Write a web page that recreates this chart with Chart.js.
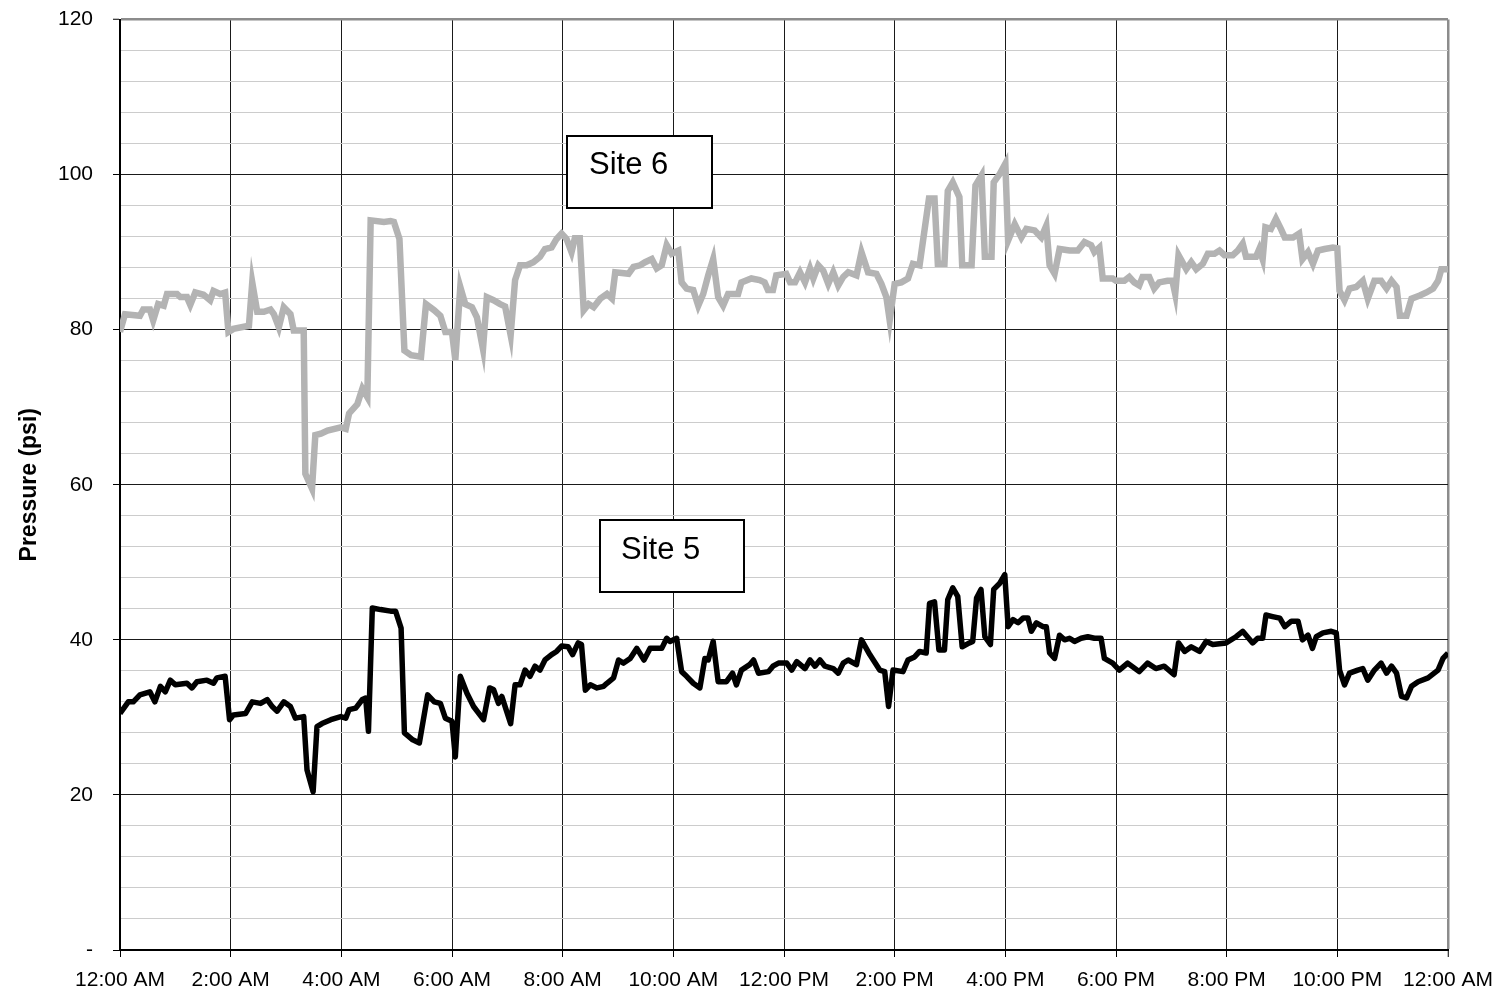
<!DOCTYPE html>
<html>
<head>
<meta charset="utf-8">
<script src="https://cdn.jsdelivr.net/npm/chart.js@4.4.1/dist/chart.umd.min.js"></script>
<style>
  html, body { margin: 0; padding: 0; background: #ffffff; }
  #wrap { position: relative; width: 1503px; height: 995px; }
  canvas { display: block; }
</style>
</head>
<body>
<div id="wrap"><canvas id="c" width="1503" height="995"></canvas></div>
<script>
// ---- Data (hours after midnight, pressure in psi) ----
const timeLabels = ["12:00 AM","2:00 AM","4:00 AM","6:00 AM","8:00 AM","10:00 AM","12:00 PM","2:00 PM","4:00 PM","6:00 PM","8:00 PM","10:00 PM","12:00 AM"];

const site6Hours = [0.00,0.09,0.36,0.42,0.54,0.60,0.69,0.79,0.85,1.03,1.09,1.21,1.27,1.36,1.51,1.63,1.69,1.81,1.90,1.96,2.05,2.33,2.39,2.48,2.60,2.72,2.78,2.87,2.96,3.08,3.14,3.32,3.35,3.47,3.53,3.63,3.75,3.99,4.08,4.14,4.29,4.38,4.47,4.53,4.77,4.89,4.95,5.05,5.14,5.26,5.44,5.53,5.68,5.79,5.88,6.00,6.06,6.15,6.24,6.36,6.45,6.56,6.63,6.75,6.87,6.96,7.06,7.14,7.23,7.35,7.47,7.59,7.68,7.80,7.89,7.98,8.07,8.16,8.22,8.31,8.38,8.47,8.56,8.68,8.80,8.89,8.95,9.07,9.19,9.28,9.40,9.49,9.61,9.70,9.79,9.88,9.97,10.09,10.15,10.24,10.36,10.45,10.54,10.63,10.72,10.81,10.90,10.99,11.17,11.23,11.41,11.56,11.65,11.71,11.80,11.86,12.04,12.11,12.20,12.29,12.38,12.47,12.53,12.62,12.71,12.80,12.89,12.98,13.07,13.16,13.31,13.40,13.52,13.67,13.76,13.85,13.91,14.00,14.12,14.24,14.33,14.45,14.62,14.72,14.78,14.90,14.96,15.05,15.17,15.22,15.39,15.46,15.57,15.63,15.75,15.79,15.90,16.00,16.05,16.17,16.29,16.38,16.53,16.65,16.74,16.80,16.89,16.98,17.16,17.31,17.43,17.55,17.61,17.70,17.76,17.94,18.00,18.15,18.24,18.33,18.42,18.48,18.60,18.69,18.78,18.93,19.02,19.07,19.13,19.27,19.36,19.45,19.57,19.66,19.78,19.87,19.96,20.11,20.20,20.29,20.35,20.53,20.59,20.65,20.70,20.80,20.89,20.98,21.05,21.20,21.31,21.37,21.47,21.56,21.65,21.77,21.92,22.00,22.04,22.13,22.22,22.34,22.46,22.55,22.67,22.79,22.89,22.98,23.07,23.13,23.25,23.34,23.49,23.61,23.73,23.82,23.88,24.00];
const site6Psi = [79.7,82.0,81.8,82.6,82.6,81.2,83.3,83.1,84.6,84.6,84.2,84.2,83.2,84.8,84.5,83.8,85.0,84.6,84.8,79.7,80.1,80.5,86.1,82.3,82.3,82.6,82.0,80.3,82.9,82.0,79.9,79.9,61.4,59.5,66.4,66.6,67.0,67.4,67.2,69.2,70.4,72.4,71.3,94.1,93.9,94.0,93.9,91.7,77.3,76.7,76.5,83.3,82.5,81.8,79.7,79.7,76.1,85.5,83.3,82.9,81.6,77.5,84.2,83.8,83.3,83.0,79.3,86.4,88.3,88.3,88.7,89.4,90.4,90.6,91.7,92.4,91.7,90.0,91.8,91.8,82.5,83.3,82.9,84.0,84.6,84.0,87.4,87.3,87.2,88.1,88.3,88.7,89.1,87.9,88.3,90.9,89.8,90.2,86.1,85.3,85.1,83.1,84.6,87.0,89.1,84.2,83.1,84.6,84.6,86.1,86.6,86.4,86.1,85.1,85.1,87.0,87.2,86.1,86.1,87.4,86.1,87.9,86.6,88.3,87.6,85.9,87.4,85.7,86.8,87.4,87.0,90.0,87.4,87.2,85.9,84.2,81.2,85.9,86.1,86.6,88.5,88.3,96.9,96.9,88.5,88.5,97.9,99.0,97.1,88.3,88.3,98.6,99.9,89.4,89.4,99.0,100.1,101.4,91.5,93.6,91.9,93.0,92.8,91.9,93.4,88.3,87.2,90.4,90.2,90.2,91.3,90.9,90.0,90.6,86.6,86.6,86.3,86.3,86.8,86.1,85.7,86.8,86.8,85.3,86.1,86.3,86.3,84.6,89.6,87.8,88.7,87.8,88.5,89.8,89.8,90.2,89.6,89.6,90.2,91.1,89.4,89.4,90.4,89.1,93.2,93.0,94.3,93.0,91.9,91.9,92.4,89.1,90.0,88.5,90.2,90.4,90.6,90.5,85.0,83.8,85.3,85.5,86.3,84.0,86.3,86.3,85.3,86.3,85.5,81.8,81.8,84.0,84.4,84.8,85.3,86.3,87.8,87.8];

const site5Hours = [0.00,0.15,0.24,0.36,0.54,0.63,0.73,0.82,0.91,1.00,1.21,1.30,1.39,1.57,1.69,1.75,1.90,1.98,2.05,2.27,2.39,2.54,2.66,2.75,2.84,2.96,3.08,3.17,3.32,3.38,3.49,3.56,3.65,3.81,3.99,4.08,4.14,4.26,4.38,4.44,4.49,4.56,4.71,4.89,4.98,5.08,5.14,5.29,5.41,5.56,5.68,5.79,5.88,6.00,6.06,6.15,6.27,6.39,6.57,6.68,6.75,6.84,6.90,7.06,7.14,7.23,7.32,7.41,7.50,7.59,7.68,7.80,7.89,7.98,8.10,8.18,8.28,8.34,8.41,8.50,8.62,8.74,8.80,8.92,9.01,9.10,9.22,9.34,9.47,9.58,9.79,9.88,9.94,10.06,10.15,10.24,10.36,10.48,10.57,10.63,10.72,10.81,10.96,11.07,11.14,11.23,11.38,11.45,11.54,11.72,11.80,11.90,12.05,12.14,12.23,12.38,12.47,12.56,12.65,12.74,12.89,12.98,13.07,13.16,13.31,13.40,13.55,13.73,13.82,13.89,13.97,14.15,14.24,14.36,14.45,14.57,14.63,14.72,14.80,14.90,14.96,15.05,15.14,15.22,15.35,15.41,15.48,15.56,15.63,15.73,15.79,15.90,15.99,16.05,16.14,16.23,16.32,16.41,16.47,16.56,16.68,16.74,16.80,16.89,16.98,17.07,17.16,17.25,17.37,17.49,17.61,17.73,17.79,17.94,18.06,18.21,18.42,18.57,18.72,18.87,19.05,19.13,19.24,19.36,19.51,19.63,19.75,19.99,20.17,20.29,20.47,20.56,20.65,20.71,20.83,20.96,21.05,21.17,21.29,21.37,21.47,21.55,21.62,21.74,21.89,21.98,22.04,22.13,22.22,22.37,22.46,22.55,22.67,22.79,22.89,22.98,23.07,23.16,23.25,23.34,23.46,23.64,23.82,23.91,24.00];
const site5Psi = [30.5,32.0,32.0,32.9,33.3,32.0,34.0,33.3,34.8,34.2,34.4,33.8,34.6,34.8,34.4,35.1,35.3,29.7,30.3,30.5,32.0,31.8,32.3,31.4,30.8,32.0,31.4,29.9,30.1,23.2,20.4,28.8,29.2,29.7,30.1,29.9,31.0,31.2,32.3,32.5,28.2,44.1,43.9,43.7,43.7,41.5,28.0,27.1,26.7,32.9,32.0,31.8,29.9,29.5,24.9,35.3,33.1,31.4,29.7,33.8,33.6,31.8,32.7,29.2,34.2,34.2,36.1,35.3,36.6,36.1,37.4,38.1,38.5,39.2,39.1,38.1,39.6,39.4,33.5,34.2,33.8,34.0,34.4,35.1,37.4,37.0,37.6,38.9,37.4,38.9,38.9,40.2,39.8,40.2,35.9,35.3,34.4,33.8,37.6,37.4,39.8,34.6,34.6,35.7,34.2,36.1,36.8,37.4,35.7,35.9,36.6,37.0,37.0,36.1,37.2,36.3,37.4,36.6,37.4,36.6,36.3,35.7,37.0,37.4,36.8,40.0,38.1,36.1,35.9,31.4,36.1,35.9,37.4,37.8,38.5,38.3,44.7,44.9,38.7,38.7,45.2,46.7,45.6,39.1,39.6,39.8,45.4,46.5,40.4,39.4,46.5,47.3,48.4,41.7,42.6,42.2,42.8,42.8,41.1,42.2,41.7,41.7,38.3,37.6,40.6,40.0,40.2,39.8,40.2,40.4,40.2,40.2,37.6,37.0,36.1,37.0,35.9,37.0,36.3,36.6,35.5,39.6,38.5,39.1,38.5,39.8,39.4,39.6,40.4,41.1,39.6,40.2,40.2,43.2,43.0,42.8,41.7,42.4,42.4,40.0,40.6,38.9,40.4,40.9,41.1,40.9,36.1,34.2,35.7,36.1,36.3,34.8,36.1,37.0,35.7,36.6,35.7,32.7,32.5,34.0,34.6,35.1,36.1,37.6,38.3];

const seriesNames = ["Site 6", "Site 5"];

// ---- Chart ----
const FONT = 'Arial, "Liberation Sans", sans-serif';

const boxLabels = {
  id: 'boxLabels',
  afterDraw(chart) {
    const ctx = chart.ctx;
    const boxes = [
      { text: seriesNames[0], x: 567, y: 136, w: 145, h: 72, tx: 589, ty: 165 },
      { text: seriesNames[1], x: 600, y: 520, w: 144, h: 72, tx: 621, ty: 550 }
    ];
    ctx.save();
    boxes.forEach(b => {
      ctx.fillStyle = '#ffffff';
      ctx.fillRect(b.x, b.y, b.w, b.h);
      ctx.strokeStyle = '#000000';
      ctx.lineWidth = 2;
      ctx.strokeRect(b.x, b.y, b.w, b.h);
      ctx.fillStyle = '#000000';
      ctx.font = '31px ' + FONT;
      ctx.textAlign = 'left';
      ctx.textBaseline = 'middle';
      ctx.fillText(b.text, b.tx, b.ty);
    });
    ctx.restore();
  }
};

const toPoints = (hs, vs) => hs.map((h, i) => ({ x: h, y: vs[i] }));

new Chart(document.getElementById('c'), {
  type: 'line',
  data: {
    datasets: [
      {
        label: seriesNames[0],
        data: toPoints(site6Hours, site6Psi),
        borderColor: '#b3b3b3',
        borderWidth: 6.5,
        pointRadius: 0,
        tension: 0,
        borderJoinStyle: 'miter',
        fill: false
      },
      {
        label: seriesNames[1],
        data: toPoints(site5Hours, site5Psi),
        borderColor: '#000000',
        borderWidth: 5.5,
        pointRadius: 0,
        tension: 0,
        borderJoinStyle: 'round',
        fill: false
      }
    ]
  },
  options: {
    responsive: false,
    animation: false,
    devicePixelRatio: 1,
    layout: { padding: { left: 0, right: 55, top: 19.5, bottom: 0 } },
    plugins: {
      legend: { display: false },
      tooltip: { enabled: false }
    },
    scales: {
      x: {
        type: 'linear',
        min: 0,
        max: 24,
        afterFit(scale) {
          scale.height = 45;
          scale.paddingLeft = 0;
          scale.paddingRight = 0;
        },
        ticks: {
          stepSize: 2,
          autoSkip: false,
          maxRotation: 0,
          minRotation: 0,
          padding: 11,
          color: '#000000',
          font: { family: FONT, size: 21 },
          callback: (v) => timeLabels[Math.round(v / 2)]
        },
        grid: {
          drawOnChartArea: true,
          tickLength: 7,
          color: (c) => (c.tick && c.tick.value === 24) ? '#8c8c8c' : '#1a1a1a',
          lineWidth: (c) => (c.tick && c.tick.value === 24) ? 2.5 : 1,
          tickColor: '#000000',
          tickWidth: 1
        },
        border: { display: true, color: '#000000', width: 2 }
      },
      y: {
        type: 'linear',
        min: 0,
        max: 120,
        afterFit(scale) {
          scale.width = 120;
          scale.paddingTop = 0;
          scale.paddingBottom = 0;
        },
        title: {
          display: true,
          text: 'Pressure (psi)',
          color: '#000000',
          font: { family: FONT, size: 23, weight: 'bold' },
          padding: { top: 16, bottom: 0 }
        },
        ticks: {
          stepSize: 4,
          autoSkip: false,
          padding: 20,
          color: '#000000',
          font: { family: FONT, size: 21 },
          callback: (v) => (v % 20 === 0) ? (v === 0 ? '-' : String(v)) : ''
        },
        grid: {
          tickLength: 7,
          color: (c) => {
            const v = c.tick ? c.tick.value : 0;
            if (v === 120) return '#8c8c8c';
            return (v % 20 === 0) ? '#1a1a1a' : '#cccccc';
          },
          lineWidth: (c) => {
            const v = c.tick ? c.tick.value : 0;
            return v === 120 ? 2.5 : 1;
          },
          tickColor: (c) => {
            const v = c.tick ? c.tick.value : 0;
            return (v % 20 === 0) ? '#000000' : 'rgba(0,0,0,0)';
          },
          tickWidth: 1
        },
        border: { display: true, color: '#000000', width: 2 }
      }
    }
  },
  plugins: [boxLabels]
});
</script>
</body>
</html>
